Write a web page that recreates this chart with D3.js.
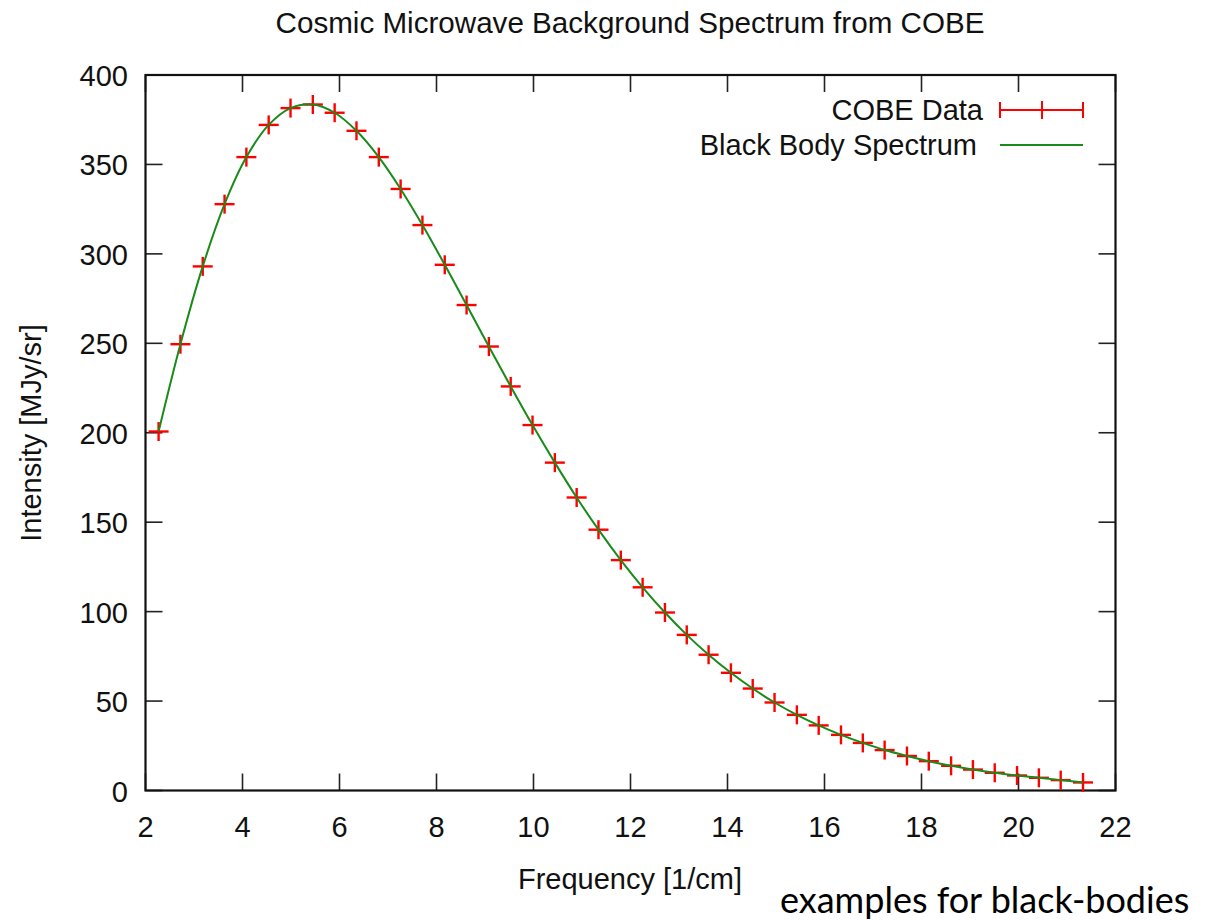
<!DOCTYPE html>
<html>
<head>
<meta charset="utf-8">
<script src="https://cdn.jsdelivr.net/npm/d3@7"></script>
<style>
  html, body { margin: 0; padding: 0; background: #fff; }
  svg { display: block; }
</style>
</head>
<body>
<svg id="chart" width="1209" height="920"></svg>
<script>
// ---- data ----
const frequency = [2.27, 2.72, 3.18, 3.63, 4.08, 4.54, 4.99, 5.45, 5.90, 6.35, 6.81, 7.26, 7.71, 8.17, 8.62, 9.08, 9.53, 9.98, 10.44, 10.89, 11.34, 11.80, 12.25, 12.71, 13.16, 13.61, 14.07, 14.52, 14.97, 15.43, 15.88, 16.34, 16.79, 17.24, 17.70, 18.15, 18.61, 19.06, 19.51, 19.97, 20.42, 20.87, 21.33];
const cobeIntensity = [200.7, 249.5, 293.0, 327.8, 354.1, 372.1, 381.5, 383.5, 378.9, 368.8, 354.1, 336.3, 316.1, 293.9, 271.4, 248.2, 225.9, 204.3, 183.3, 163.8, 145.8, 128.8, 113.6, 99.5, 87.0, 75.9, 65.8, 57.0, 49.2, 42.3, 36.4, 31.1, 26.6, 22.6, 19.3, 16.4, 13.8, 11.7, 9.9, 8.4, 7.1, 5.8, 4.5];
const blackBodyIntensity = [200.7, 249.5, 293.0, 327.8, 354.1, 372.1, 381.5, 383.5, 378.9, 368.8, 354.1, 336.3, 316.1, 293.9, 271.4, 248.2, 225.9, 204.3, 183.3, 163.8, 145.8, 128.8, 113.6, 99.5, 87.0, 75.9, 65.8, 57.0, 49.2, 42.3, 36.4, 31.1, 26.6, 22.6, 19.3, 16.4, 13.8, 11.7, 9.9, 8.4, 7.1, 5.8, 4.5];
const xTicks = [2, 4, 6, 8, 10, 12, 14, 16, 18, 20, 22];
const yTicks = [0, 50, 100, 150, 200, 250, 300, 350, 400];
const seriesNames = ["COBE Data", "Black Body Spectrum"];
const titleText = "Cosmic Microwave Background Spectrum from COBE";
const xLabel = "Frequency [1/cm]";
const yLabel = "Intensity [MJy/sr]";
const footnote = "examples for black-bodies";

// ---- layout ----
const svg = d3.select("#chart");
const L = 145.5, R = 1115.5, T = 75, B = 790.5;
const font = "'Liberation Sans', Arial, sans-serif";
const fs = 29;
const red = "#ff0000", green = "#1a8a1a";

const x = d3.scaleLinear().domain([2, 22]).range([L, R]);
const y = d3.scaleLinear().domain([0, 400]).range([B, T]);

const data = frequency.map((f, i) => ({ f, v: cobeIntensity[i], b: blackBodyIntensity[i] }));

// ticks (inward, mirrored)
const tickLen = 17;
const g = svg.append("g");
g.selectAll("line.xb").data(xTicks).join("line")
  .attr("x1", d => x(d)).attr("x2", d => x(d))
  .attr("y1", B).attr("y2", B - tickLen);
g.selectAll("line.xt").data(xTicks).join("line")
  .attr("x1", d => x(d)).attr("x2", d => x(d))
  .attr("y1", T).attr("y2", T + tickLen);
g.selectAll("line.yl").data(yTicks).join("line")
  .attr("x1", L).attr("x2", L + tickLen)
  .attr("y1", d => y(d)).attr("y2", d => y(d));
g.selectAll("line.yr").data(yTicks).join("line")
  .attr("x1", R).attr("x2", R - tickLen)
  .attr("y1", d => y(d)).attr("y2", d => y(d));
g.selectAll("line").attr("stroke", "#222").attr("stroke-width", 1.6);

// tick labels
svg.append("g").selectAll("text").data(xTicks).join("text")
  .attr("x", d => x(d)).attr("y", 837)
  .attr("text-anchor", "middle")
  .style("font-family", font).style("font-size", fs + "px").attr("fill", "#111")
  .text(d => d);
svg.append("g").selectAll("text").data(yTicks).join("text")
  .attr("x", 128).attr("y", d => y(d) + 11)
  .attr("text-anchor", "end")
  .style("font-family", font).style("font-size", fs + "px").attr("fill", "#111")
  .text(d => d);

// border
svg.append("rect").attr("x", L).attr("y", T).attr("width", R - L).attr("height", B - T)
  .attr("fill", "none").attr("stroke", "#111").attr("stroke-width", 2.2);

// data points (+)
const hw = 10, hh = 9.5;
const pts = svg.append("g").attr("stroke", red).attr("stroke-width", 2.4);
pts.selectAll("line.h").data(data).join("line")
  .attr("x1", d => x(d.f) - hw).attr("x2", d => x(d.f) + hw)
  .attr("y1", d => y(d.v)).attr("y2", d => y(d.v));
pts.selectAll("line.v").data(data).join("line")
  .attr("x1", d => x(d.f)).attr("x2", d => x(d.f))
  .attr("y1", d => y(d.v) - hh).attr("y2", d => y(d.v) + hh);

// black body curve
const line = d3.line().x(d => x(d.f)).y(d => y(d.b)).curve(d3.curveCatmullRom.alpha(0.5));
svg.append("path").datum(data).attr("d", line)
  .attr("fill", "none").attr("stroke", green).attr("stroke-width", 2);

// legend
const leg = svg.append("g");
leg.append("text").attr("x", 983).attr("y", 120).attr("text-anchor", "end")
  .style("font-family", font).style("font-size", fs + "px").attr("fill", "#111").text(seriesNames[0]);
leg.append("text").attr("x", 977).attr("y", 155).attr("text-anchor", "end")
  .style("font-family", font).style("font-size", fs + "px").attr("fill", "#111").text(seriesNames[1]);
const ly1 = 110, lx1 = 1000, lx2 = 1083, lxm = 1042;
const lg = leg.append("g").attr("stroke", red).attr("stroke-width", 2);
lg.append("line").attr("x1", lx1).attr("x2", lx2).attr("y1", ly1).attr("y2", ly1);
lg.append("line").attr("x1", lx1).attr("x2", lx1).attr("y1", ly1 - 8).attr("y2", ly1 + 8);
lg.append("line").attr("x1", lx2).attr("x2", lx2).attr("y1", ly1 - 8).attr("y2", ly1 + 8);
lg.append("line").attr("x1", lxm).attr("x2", lxm).attr("y1", ly1 - 9).attr("y2", ly1 + 9);
leg.append("line").attr("x1", lx1).attr("x2", lx2).attr("y1", 145).attr("y2", 145)
  .attr("stroke", green).attr("stroke-width", 2);

// title and axis labels
svg.append("text").attr("x", 630).attr("y", 33).attr("text-anchor", "middle")
  .style("font-family", font).style("font-size", "29.6px").attr("fill", "#111").text(titleText);
svg.append("text").attr("x", 630).attr("y", 889).attr("text-anchor", "middle")
  .style("font-family", font).style("font-size", fs + "px").attr("fill", "#111").text(xLabel);
svg.append("text").attr("transform", "translate(41,433) rotate(-90)").attr("text-anchor", "middle")
  .style("font-family", font).style("font-size", fs + "px").attr("fill", "#111").text(yLabel);

// footnote
svg.append("text").attr("x", 780).attr("y", 913)
  .style("font-family", "Lato, 'Open Sans', sans-serif").style("font-size", "36px").attr("fill", "#000")
  .text(footnote);
</script>
</body>
</html>
